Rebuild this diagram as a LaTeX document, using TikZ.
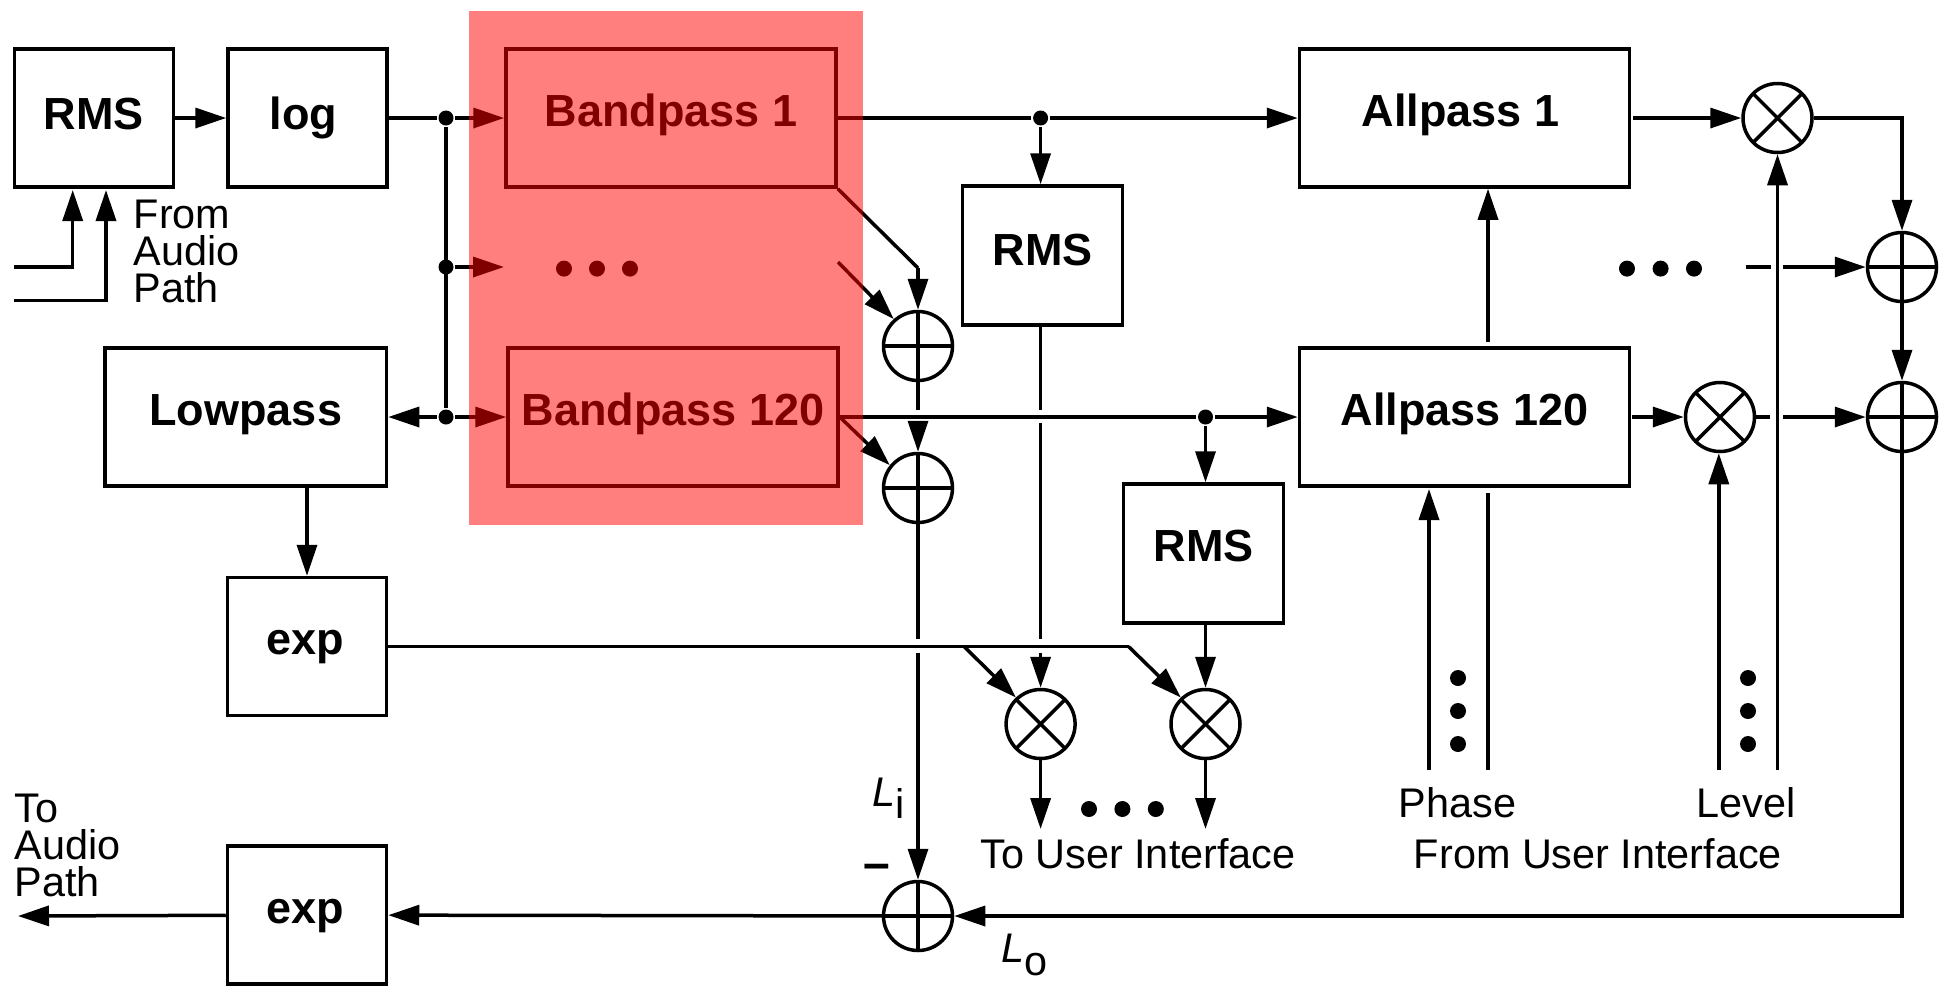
\documentclass[tikz,border=0pt]{standalone}
\usepackage{fontspec}
\setmainfont{Liberation Sans}
\usepackage{tikz}
\usetikzlibrary{shapes.geometric, positioning, arrows.meta}
\tikzset{
blockbox/.style={draw, rectangle, font=\fontsize{22.5}{26}\selectfont\bfseries, text height=16pt, text depth=8pt, inner sep=0pt},
smallbox/.style={blockbox, minimum width=79.5pt, minimum height=69pt},
rmsbox/.style={blockbox, minimum width=80pt, minimum height=69.5pt},
widebox/.style={blockbox, minimum width=165pt, minimum height=69pt},
conn/.style={-{Triangle[length=15.5pt,width=10pt]}},
sumnode/.style={draw, circle, inner sep=0pt, minimum size=34.5pt, path picture={
\draw (path picture bounding box.north) -- (path picture bounding box.south);
\draw (path picture bounding box.west) -- (path picture bounding box.east);}},
mulnode/.style={draw, circle, inner sep=0pt, minimum size=34.5pt, path picture={
\draw (path picture bounding box.north west) -- (path picture bounding box.south east);
\draw (path picture bounding box.north east) -- (path picture bounding box.south west);}},
joint/.style={circle, fill, inner sep=0pt, minimum size=7.5pt},
dotmark/.style={circle, fill, inner sep=0pt, minimum size=8pt},
labeltext/.style={font=\fontsize{20.7}{18.5}\selectfont, inner sep=0pt, align=left},
highlight/.style={rectangle, fill=red, fill opacity=0.5, inner sep=0pt, minimum width=197pt, minimum height=256.75pt}
}
\begin{document}
\begin{tikzpicture}[x=0.5pt, y=-0.5pt, line width=1.75pt]
\useasboundingbox (0,0) rectangle (1950,993);
% boxes on the left
\node[smallbox, text depth=4.5pt] (rmsin) at (93.75,118) {RMS};
\node[smallbox, text depth=4.5pt] (logbox) at (307.5,118) {log\hspace*{4pt}};
\node[smallbox, minimum width=140.75pt] (lowpass) at (245.75,417) {Lowpass};
\node[smallbox] (expup) at (307,646.5) {exp\hspace*{2pt}};
\node[smallbox] (expdown) at (307,915) {exp\hspace*{2pt}};
% filter banks
\node[widebox] (bandone) at (671,118) {Bandpass 1};
\node[widebox] (bandlast) at (673,417) {Bandpass 120};
\node[widebox] (allone) at (1464.5,118) {Allpass 1\hspace*{4pt}};
\node[widebox] (alllast) at (1464.5,417) {Allpass 120};
\node[rmsbox, text depth=6pt] (rmsone) at (1042.5,255.5) {RMS};
\node[rmsbox] (rmslast) at (1203.5,553.5) {RMS};
% adders and multipliers
\node[sumnode] (sumone) at (918,346) {};
\node[sumnode] (sumlast) at (918,488) {};
\node[sumnode] (sumout) at (918,916) {};
\node[sumnode] (sumtop) at (1902,267) {};
\node[sumnode] (sumlow) at (1902,417) {};
\node[mulnode] (mulone) at (1777.5,118) {};
\node[mulnode] (mullast) at (1720,417) {};
\node[mulnode] (mulrmsa) at (1040.6,724) {};
\node[mulnode] (mulrmsb) at (1205.5,724) {};
% junctions
\node[joint] (jointa) at (446,118) {};
\node[joint] (jointb) at (446,267) {};
\node[joint] (jointc) at (446,417) {};
\node[joint] (jointd) at (1040.6,118) {};
\node[joint] (jointe) at (1205.5,417) {};
% the dots
\node[dotmark] (dota) at (564,268.6) {};
\node[dotmark] (dotb) at (597,268.6) {};
\node[dotmark] (dotc) at (630,268.6) {};
\node[dotmark] (dotd) at (1627,268.6) {};
\node[dotmark] (dote) at (1660.6,268.6) {};
\node[dotmark] (dotf) at (1694,268.6) {};
\node[dotmark] (dotg) at (1089,809) {};
\node[dotmark] (doth) at (1122.4,809) {};
\node[dotmark] (doti) at (1155.8,809) {};
\node[dotmark] (dotj) at (1458,678) {};
\node[dotmark] (dotk) at (1458,711) {};
\node[dotmark] (dotl) at (1458,744) {};
\node[dotmark] (dotm) at (1748,678) {};
\node[dotmark] (dotn) at (1748,711) {};
\node[dotmark] (doto) at (1748,744) {};
% free ends
\coordinate (audioa) at (14,267);
\coordinate (audiob) at (14,300.6);
\coordinate (tipa) at (72.7,190);
\coordinate (tipb) at (106,190);
\coordinate (audioout) at (18,916);
\coordinate (bendone) at (918,268);
\coordinate (midout) at (838,262);
\coordinate (midin) at (504,267);
\coordinate (gapa) at (918,410);
\coordinate (gapb) at (918,423);
\coordinate (gapc) at (918,639);
\coordinate (gapd) at (918,652.7);
\coordinate (gape) at (1040.6,410);
\coordinate (gapf) at (1040.6,423);
\coordinate (gapg) at (1040.6,639);
\coordinate (gaph) at (1040.6,652.7);
\coordinate (branchone) at (964,646.5);
\coordinate (branchtwo) at (1128.5,646.5);
\coordinate (phaseup) at (1488,342);
\coordinate (phasedown) at (1488,493);
\coordinate (phaseend) at (1488,770);
\coordinate (phasein) at (1429,770);
\coordinate (phasetip) at (1429,489);
\coordinate (levelin) at (1718.8,770);
\coordinate (levelup) at (1777.5,770);
\coordinate (dashstart) at (1745.5,267);
\coordinate (dashend) at (1771,267);
\coordinate (dashnext) at (1783,267);
\coordinate (stubend) at (1769.7,417);
\coordinate (stubnext) at (1783,417);
\coordinate (allonegap) at (1633,118);
\coordinate (lastgap) at (1631.5,417);
\coordinate (uibelowa) at (1040.6,829);
\coordinate (uibelowb) at (1205.5,829);
% left part
\draw[conn] (audioa) -| (tipa);
\draw[conn] (audiob) -| (tipb);
\draw[conn] (rmsin) -- (logbox);
\draw (logbox) -- (jointa);
\draw[conn] (jointa) -- (bandone);
\draw (jointa) -- (jointc);
\draw[conn] (jointb) -- (midin);
\draw[conn] (jointc) -- (lowpass);
\draw[conn] (jointc) -- (bandlast);
\draw[conn] (lowpass.south -| expup) -- (expup);
% adding the bands
\draw (bandone.south east) -- (bendone);
\draw[conn] (bendone) -- (sumone.north);
\draw[conn] (midout) -- (sumone.132);
\draw[conn] (bandlast.east) -- (sumlast.141);
\draw (sumone.south) -- (gapa);
\draw[conn] (gapb) -- (sumlast.north);
\draw (sumlast.south) -- (gapc);
\draw[conn] (gapd) -- (sumout.north);
% top and lower rows
\draw (bandone) -- (jointd);
\draw[conn] (jointd) -- (allone);
\draw[conn] (jointd) -- (jointd |- rmsone.north);
\draw (bandlast) -- (jointe);
\draw[conn] (jointe) -- (alllast);
\draw[conn] (jointe) -- (jointe |- rmslast.north);
\draw[conn] (allonegap) -- (mulone);
\draw[conn] (lastgap) -- (mullast);
\draw[conn] (mulone.east) -| (sumtop.north);
\draw[conn] (sumtop.south) -- (sumlow.north);
\draw (dashstart) -- (dashend);
\draw[conn] (dashnext) -- (sumtop.west);
\draw (mullast.east) -- (stubend);
\draw[conn] (stubnext) -- (sumlow.west);
\draw[conn] (phaseup) -- (phaseup |- allone.south);
\draw (phasedown) -- (phaseend);
\draw[conn] (phasein) -- (phasetip);
\draw[conn] (levelin) -- (mullast.south -| levelin);
\draw[conn] (levelup) -- (mulone.south);
% level meters
\draw (jointd |- rmsone.south) -- (gape);
\draw (gapf) -- (gapg);
\draw[conn] (gaph) -- (mulrmsa.north);
\draw[conn] (jointe |- rmslast.south) -- (mulrmsb.north);
\draw (expup) -- (branchtwo);
\draw[conn] (branchone) -- (mulrmsa.133);
\draw[conn] (branchtwo) -- (mulrmsb.133);
\draw[conn] (mulrmsa.south) -- (uibelowa);
\draw[conn] (mulrmsb.south) -- (uibelowb);
% output
\draw[conn] (sumlow.south) |- (sumout.east);
\draw[conn] (sumout) -- (expdown);
\draw[conn] (expdown) -- (audioout);
% labels
\node[labeltext, anchor=north west] (frompath) at (132,198) {From\\Audio\\Path};
\node[labeltext, anchor=north west] (topath) at (13,792) {To\\Audio\\Path};
\node[labeltext, anchor=base] (phaselabel) at (1457.6,817) {Phase};
\node[labeltext, anchor=base] (levellabel) at (1746,817) {Level};
\node[labeltext, anchor=base] (touser) at (1138,868) {To User Interface};
\node[labeltext, anchor=base] (fromuser) at (1598,868) {From User Interface};
\node[labeltext, anchor=base west] (levelinlabel) at (871,806) {\textit{L}\raisebox{-6pt}{i}};
\node[labeltext, anchor=base west] (leveloutlabel) at (1000,962) {\textit{L}\raisebox{-6.5pt}{o}};
\node[labeltext, anchor=base, font=\fontsize{24}{26}\selectfont\bfseries] (minuslabel) at (877,879) {–};
% red band over the filters
\node[highlight] (bandshade) at (666,267.75) {};
\end{tikzpicture}
\end{document}
